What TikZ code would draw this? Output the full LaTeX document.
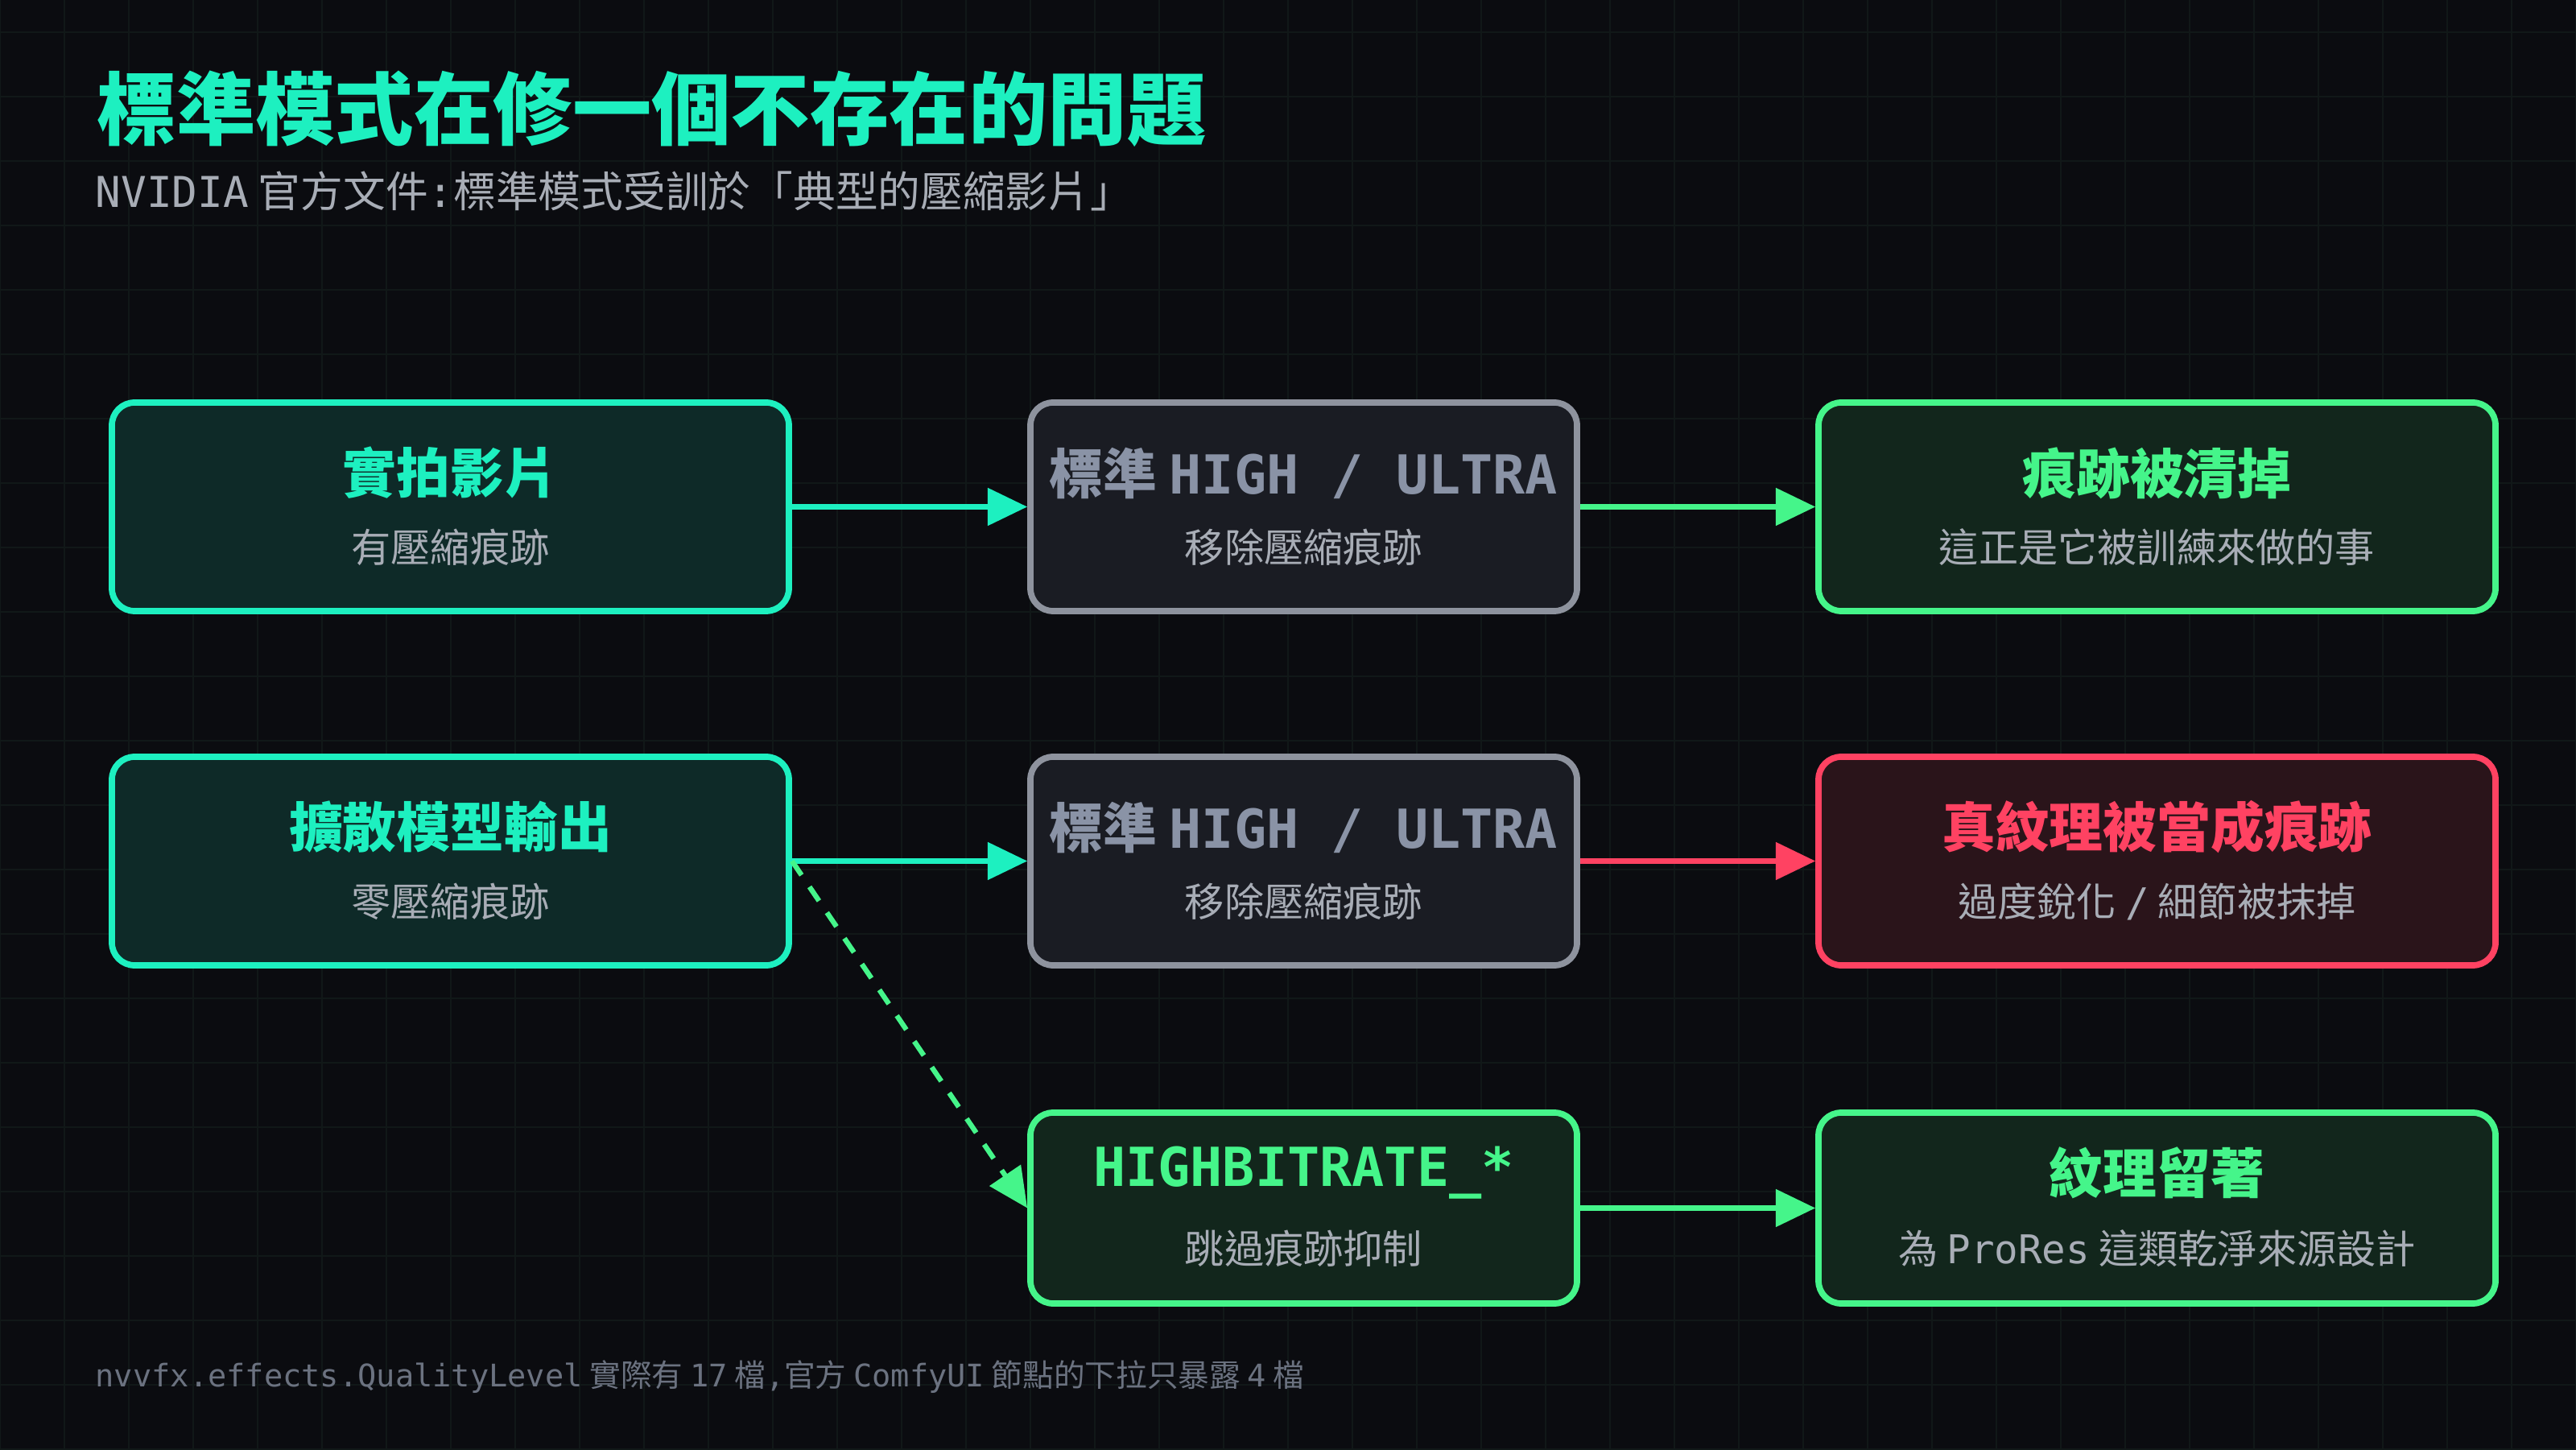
\documentclass[tikz,border=0pt]{standalone}
\usepackage{fontspec}
\setmainfont{Noto Sans CJK TC}
\newfontfamily\mono{DejaVu Sans Mono}
\usetikzlibrary{arrows.meta,calc}
\definecolor{bg}{HTML}{0B0C10}
\definecolor{gridc}{HTML}{111818}
\definecolor{teal}{HTML}{1DF0C0}
\definecolor{tealfill}{HTML}{0E2A28}
\definecolor{grayb}{HTML}{8E939E}
\definecolor{grayfill}{HTML}{1A1C23}
\definecolor{grayt}{HTML}{8A93A6}
\definecolor{green}{HTML}{45F58A}
\definecolor{greenfill}{HTML}{12261C}
\definecolor{red}{HTML}{FF4262}
\definecolor{redfill}{HTML}{2A141A}
\definecolor{sub}{HTML}{A8ADB6}
\definecolor{foot}{HTML}{6B7280}
\tikzset{
 wide/.style={minimum width=8.41cm},
 narrow/.style={minimum width=6.79cm},
 tall/.style={minimum height=2.59cm},
 short/.style={minimum height=2.37cm},
 tealbox/.style={draw=teal, fill=tealfill},
 graybox/.style={draw=grayb, fill=grayfill},
 greenbox/.style={draw=green, fill=greenfill},
 redbox/.style={draw=red, fill=redfill},
 box/.style={line width=2.2pt, rounded corners=8pt, inner sep=0pt},
 ttl/.style={font=\fontsize{19}{22}\selectfont\bfseries, inner sep=0pt},
 subl/.style={text=sub, font=\fontsize{14}{16}\selectfont, inner sep=0pt},
 arr/.style={line width=1.8pt, -{Triangle[length=14pt,width=13pt]}},
}
\begin{document}
\begin{tikzpicture}[x=1cm,y=1cm]
\fill[bg] (0,0) rectangle (32,18);
\useasboundingbox (0,0) rectangle (32,18);
\draw[gridc, line width=0.5pt] (0,0) grid[step=0.8] (32,18);
\node[anchor=west, text=teal, font=\fontsize{28}{32}\selectfont\bfseries, inner sep=0pt] (title) at (1.2,16.65) {標準模式在修一個不存在的問題};
\node[anchor=west, text=sub, font=\fontsize{15}{18}\selectfont, inner sep=0pt] (subt) at (1.18,15.63) {{\mono NVIDIA} 官方文件{\mono :}標準模式受訓於「典型的壓縮影片」};
% boxes
\node[box, tealbox, wide, tall] (a1) at (5.595,11.705) {};
\node[box, graybox, narrow, tall] (b1) at (16.195,11.705) {};
\node[box, greenbox, wide, tall] (c1) at (26.795,11.705) {};
\node[box, tealbox, wide, tall] (a2) at (5.595,7.305) {};
\node[box, graybox, narrow, tall] (b2) at (16.195,7.305) {};
\node[box, redbox, wide, tall] (c2) at (26.795,7.305) {};
\node[box, greenbox, narrow, short] (b3) at (16.195,2.995) {};
\node[box, greenbox, wide, short] (c3) at (26.795,2.995) {};
% texts
\node[ttl, text=teal] (a1t) at ($(a1)+(0,0.42)$) {實拍影片};
\node[subl] (a1s) at ($(a1)+(0,-0.5)$) {有壓縮痕跡};
\node[ttl, text=grayt] (b1t) at ($(b1)+(0,0.42)$) {標準 {\mono HIGH / ULTRA}};
\node[subl] (b1s) at ($(b1)+(0,-0.5)$) {移除壓縮痕跡};
\node[ttl, text=green] (c1t) at ($(c1)+(0,0.42)$) {痕跡被清掉};
\node[subl] (c1s) at ($(c1)+(0,-0.5)$) {這正是它被訓練來做的事};
\node[ttl, text=teal] (a2t) at ($(a2)+(0,0.42)$) {擴散模型輸出};
\node[subl] (a2s) at ($(a2)+(0,-0.5)$) {零壓縮痕跡};
\node[ttl, text=grayt] (b2t) at ($(b2)+(0,0.42)$) {標準 {\mono HIGH / ULTRA}};
\node[subl] (b2s) at ($(b2)+(0,-0.5)$) {移除壓縮痕跡};
\node[ttl, text=red] (c2t) at ($(c2)+(0,0.42)$) {真紋理被當成痕跡};
\node[subl] (c2s) at ($(c2)+(0,-0.5)$) {過度銳化 {\mono /} 細節被抹掉};
\node[ttl, text=green] (b3t) at ($(b3)+(0,0.44)$) {\mono HIGHBITRATE\_*};
\node[subl] (b3s) at ($(b3)+(0,-0.5)$) {跳過痕跡抑制};
\node[ttl, text=green] (c3t) at ($(c3)+(0,0.44)$) {紋理留著};
\node[subl] (c3s) at ($(c3)+(0,-0.5)$) {為 {\mono ProRes} 這類乾淨來源設計};
% arrows
\draw[arr, teal] (a1.east) -- (b1.west);
\draw[arr, green] (b1.east) -- (c1.west);
\draw[arr, teal] (a2.east) -- (b2.west);
\draw[arr, red] (b2.east) -- (c2.west);
\draw[arr, green, dash pattern=on 6pt off 5pt, -{Triangle[length=14pt,width=13pt]}] (a2.east) -- (b3.west);
\draw[arr, green] (b3.east) -- (c3.west);
% footer
\node[anchor=west, text=foot, font=\fontsize{11}{13}\selectfont, inner sep=0pt] (foot) at (1.18,0.9) {{\mono nvvfx.effects.QualityLevel} 實際有 {\mono 17} 檔{\mono ,}官方 {\mono ComfyUI} 節點的下拉只暴露 {\mono 4} 檔};
\end{tikzpicture}
\end{document}
